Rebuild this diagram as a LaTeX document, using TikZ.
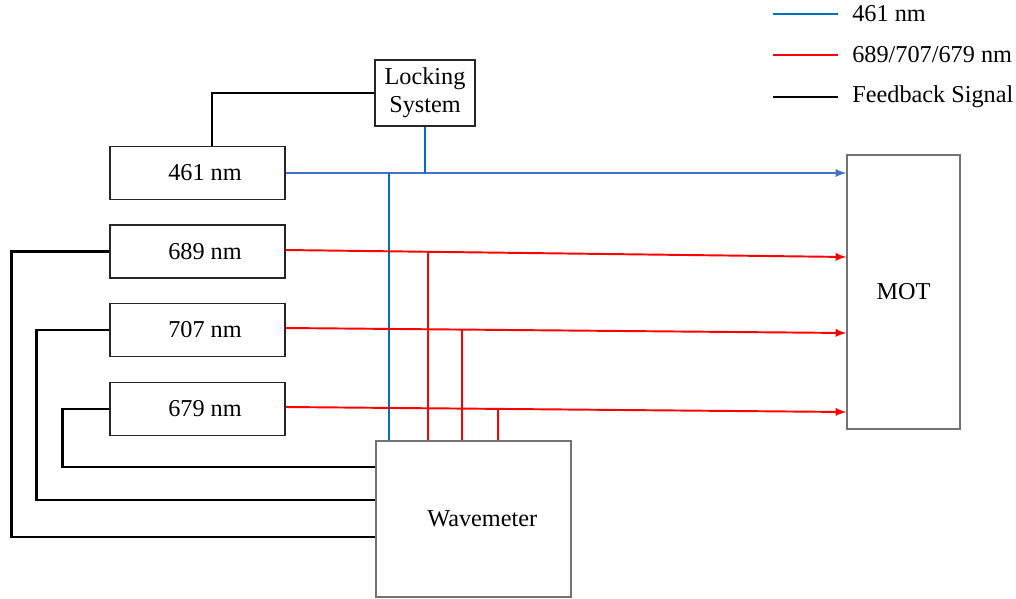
\documentclass[tikz,border=0pt]{standalone}
\usepackage{fontspec}
\setmainfont{LiberationSerif}[Extension=.ttf, UprightFont=*-Regular, BoldFont=*-Bold]
\usepackage{tikz}
\usetikzlibrary{arrows,shapes,positioning,calc}

\definecolor{beamblue}{HTML}{4472C4}
\definecolor{tapblue}{HTML}{0070C0}
\definecolor{beamred}{HTML}{FF0000}

\tikzset{
    laserbox/.style={rectangle, draw=black!85, line width=0.6pt, minimum width=3.5cm, minimum height=1.06cm, inner sep=0pt},
    bigbox/.style={rectangle, draw=black!55, line width=0.8pt, inner sep=0pt},
    blueline/.style={draw=beamblue, line width=1.1pt},
    bluetap/.style={draw=tapblue, line width=1.1pt},
    redline/.style={draw=beamred, line width=1.1pt},
    feedback/.style={draw=black, line width=1.4pt}
}

\begin{document}
\begin{tikzpicture}[x=0.02cm, y=-0.02cm, font=\fontsize{13.8}{16}\selectfont]
    \useasboundingbox (0,0) rectangle (1016,598);

    % Lasers
    \node[laserbox] (laser461) at (197.5,173) {\hspace{0.3cm}461 nm};
    \node[laserbox] (laser689) at (197.5,251.5) {\hspace{0.3cm}689 nm};
    \node[laserbox] (laser707) at (197.5,330) {\hspace{0.3cm}707 nm};
    \node[laserbox] (laser679) at (197.5,409) {\hspace{0.3cm}679 nm};

    % Locking System
    \node[rectangle, draw=black!85, line width=0.6pt, minimum width=2cm, minimum height=1.32cm, inner sep=0pt, align=center] (locking) at (425,93) {Locking\\System};

    % Wavemeter
    \node[bigbox, minimum width=3.9cm, minimum height=3.12cm] (wavemeter) at (473.5,519) {\hspace{0.35cm}Wavemeter};

    % MOT
    \node[bigbox, minimum width=2.26cm, minimum height=5.48cm] (mot) at (903.5,292) {MOT};

    % Taps onto the beams
    \coordinate (tap461) at (389,173);
    \coordinate (tap689) at (428,252);
    \coordinate (tap707) at (462,330);
    \coordinate (tap679) at (498,409);

    % 461 nm beam
    \draw[blueline, -latex] (laser461.east) -- (laser461.east -| mot.west);
    \draw[bluetap] (locking.south) -- (locking.south |- laser461.east);
    \draw[bluetap] (tap461) -- (tap461 |- wavemeter.north);

    % Red beams
    \draw[redline, -latex] ($(laser689.east)+(0,-1.5)$) -- ($(mot.west |- laser689.east)+(0,5.5)$);
    \draw[redline, -latex] ($(laser707.east)+(0,-2)$) -- ($(mot.west |- laser707.east)+(0,3)$);
    \draw[redline, -latex] ($(laser679.east)+(0,-2)$) -- ($(mot.west |- laser679.east)+(0,3)$);
    \draw[redline] (tap689) -- (tap689 |- wavemeter.north);
    \draw[redline] (tap707) -- (tap707 |- wavemeter.north);
    \draw[redline] (tap679) -- (tap679 |- wavemeter.north);

    % Feedback signals
    \draw[feedback] (locking.west) -| ($(laser461.north)+(14.5,0)$);
    \draw[feedback] (laser689.west) -- ++(-98,0) |- ([yshift=-0.36cm]wavemeter.west);
    \draw[feedback] (laser707.west) -- ++(-73,0) |- ([yshift=0.38cm]wavemeter.west);
    \draw[feedback] (laser679.west) -- ++(-47,0) |- ([yshift=1.04cm]wavemeter.west);

    % Legend
    \draw[bluetap] (773,14) -- (838,14);
    \draw[redline] (773,55) -- (838,55);
    \draw[feedback, line width=1.1pt] (773,97) -- (838,97);
    \node[anchor=west, inner sep=0pt] (key461) at (852,14) {461 nm};
    \node[anchor=west, inner sep=0pt] (keyred) at (852,55) {689/707/679 nm};
    \node[anchor=west, inner sep=0pt] (keyfb) at (852,97) {Feedback Signal};
\end{tikzpicture}
\end{document}
